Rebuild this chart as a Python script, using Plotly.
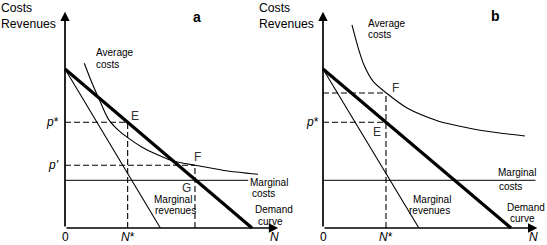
import plotly.graph_objects as go

# ---------------- data (economic units) ----------------
axis_N_end = 11.4
axis_p_top = 13.6

demand_N = [0, 10.0]
demand_p = [10.0, 0]
mr_N = [0, 5.1]
mr_p = [10.0, 0]
mc_level = 3.0
mc_end_a = 9.8
mc_end_b = 11.3

n_star = 3.35
p_star = 6.65
n_prime = 6.95
p_prime = 3.95
ac_b_at_nstar = 8.49

ac_a_N = [1.03, 1.45, 1.78, 2.32, 2.85, 3.39, 4.1, 4.8, 5.5, 6.2, 6.95, 8.5, 10.32]
ac_a_p = [10.36, 9.1, 8.22, 6.85, 6.15, 5.65, 5.1, 4.68, 4.33, 4.1, 3.95, 3.62, 3.38]

ac_b_N = [1.54, 1.88, 2.18, 2.68, 3.37, 4.47, 6.12, 6.52, 8.35, 10.74]
ac_b_p = [12.77, 11.30, 10.25, 9.20, 8.49, 7.55, 6.73, 6.60, 6.15, 5.79]

# ---------------- layout constants ----------------
W, H = 547, 245
ox_a, ox_b, oy = 65, 323, 228      # pixel origins
sx_a, sx_b, sy = 18.7, 18.8, 15.9  # pixels per unit
FONT = "Liberation Sans, Arial, Helvetica, sans-serif"

fig = go.Figure()


def line(xs, ys, panel, width=1.0, dash=None, shape="linear"):
    fig.add_trace(go.Scatter(
        x=xs, y=ys, mode="lines",
        line=dict(color="black", width=width, dash=dash, shape=shape, smoothing=0.8),
        xaxis="x" if panel == "a" else "x2",
        yaxis="y" if panel == "a" else "y2",
        hoverinfo="skip", showlegend=False))


DASH = "6px,3px"
annotations = []


def text(panel, x, y, s, size=10, xanchor="left", color="black", bold=False,
         yanchor="middle", xref=None, yref=None):
    annotations.append(dict(
        x=x, y=y,
        xref=xref or ("x" if panel == "a" else "x2"),
        yref=yref or ("y" if panel == "a" else "y2"),
        text=("<b>%s</b>" % s) if bold else s, showarrow=False,
        xanchor=xanchor, yanchor=yanchor, align="left", borderpad=0,
        font=dict(family=FONT, size=size, color=color)))


def arrow(panel, x, y):
    xr = "x" if panel == "a" else "x2"
    yr = "y" if panel == "a" else "y2"
    annotations.append(dict(
        x=x, y=y, ax=0, ay=0, xref=xr, yref=yr, axref=xr, ayref=yr,
        text="", showarrow=True, arrowhead=2, arrowsize=1.1, arrowwidth=1.7,
        arrowcolor="black", standoff=0))


for panel, mc_end, ac_N, ac_p in (("a", mc_end_a, ac_a_N, ac_a_p), ("b", mc_end_b, ac_b_N, ac_b_p)):
    arrow(panel, 0, axis_p_top)
    arrow(panel, axis_N_end, 0)
    line(mr_N, mr_p, panel, 1.1)
    line([0, mc_end], [mc_level, mc_level], panel, 1.0)
    line(ac_N, ac_p, panel, 1.1, shape="spline")
    line(demand_N, demand_p, panel, 3.2)

# dashed guides panel a
line([0, n_star], [p_star, p_star], "a", 1.1, DASH)
line([n_star, n_star], [0, p_star], "a", 1.1, DASH)
line([0, n_prime], [p_prime, p_prime], "a", 1.1, DASH)
line([n_prime, n_prime], [0, p_prime], "a", 1.1, DASH)
# dashed guides panel b
line([0, n_star], [ac_b_at_nstar, ac_b_at_nstar], "b", 1.1, DASH)
line([0, n_star], [p_star, p_star], "b", 1.1, DASH)
line([n_star, n_star], [0, ac_b_at_nstar], "b", 1.1, DASH)

# ---- text panel a ----
text("a", 0, 1, "Costs<br>Revenues", 12.2, yanchor="top", xref="paper", yref="paper")
text("a", 7.06, 13.27, "a", 14, "center", bold=True)
text("a", 1.60, 11.04, "Average", 10)
text("a", 1.60, 10.31, "costs", 10)
text("a", 3.72, 7.04, "E", 12, "center", "#333")
text("a", 7.11, 4.47, "F", 12, "center", "#333")
text("a", 6.52, 2.52, "G", 12, "center", "#333")
text("a", 4.71, 1.82, "Marginal", 10)
text("a", 4.76, 1.07, "revenues", 10)
text("a", 9.84, 2.89, "Marginal", 10)
text("a", 9.95, 2.20, "costs", 10)
text("a", 10.11, 1.16, "Demand", 10)
text("a", 10.29, 0.44, "curve", 10)
text("a", -0.27, p_star, "<i>p</i>*", 12, "right")
text("a", -0.27, p_prime, "<i>p'</i>", 12, "right")
text("a", 0, 0, "0", 12, "center", yanchor="bottom", yref="paper")
text("a", n_star, 0, "<i>N</i>*", 12, "center", yanchor="bottom", yref="paper")
text("a", 11.18, 0, "<i>N</i>", 12, "center", yanchor="bottom", yref="paper")

# ---- text panel b ----
text("b", -3.46, 1, "Costs<br>Revenues", 12.2, yanchor="top", yref="paper")
text("b", 9.20, 13.33, "b", 14, "center", bold=True)
text("b", 2.34, 12.89, "Average", 10)
text("b", 2.34, 12.17, "costs", 10)
text("b", 3.83, 8.81, "F", 12, "center", "#333")
text("b", 2.87, 6.04, "E", 12, "center", "#333")
text("b", -0.16, p_star, "<i>p</i>*", 12, "right")
text("b", 9.26, 3.46, "Marginal", 10)
text("b", 9.31, 2.64, "costs", 10)
text("b", 4.73, 1.82, "Marginal", 10)
text("b", 4.52, 1.07, "revenues", 10)
text("b", 9.73, 1.32, "Demand", 10)
text("b", 9.87, 0.57, "curve", 10)
text("b", 0, 0, "0", 12, "center", yanchor="bottom", yref="paper")
text("b", n_star, 0, "<i>N</i>*", 12, "center", yanchor="bottom", yref="paper")
text("b", 11.17, 0, "<i>N</i>", 12, "center", yanchor="bottom", yref="paper")

yr = [-(H - oy) / sy, oy / sy]
fig.update_layout(
    width=W, height=H, margin=dict(l=0, r=0, t=0, b=0),
    paper_bgcolor="white", plot_bgcolor="white",
    showlegend=False, hovermode=False,
    xaxis=dict(domain=[0, 1], range=[-ox_a / sx_a, (W - ox_a) / sx_a], visible=False, fixedrange=True),
    yaxis=dict(domain=[0, 1], range=yr, visible=False, fixedrange=True),
    xaxis2=dict(domain=[0, 1], range=[-ox_b / sx_b, (W - ox_b) / sx_b], visible=False,
                overlaying="x", anchor="y2", fixedrange=True),
    yaxis2=dict(domain=[0, 1], range=yr, visible=False, overlaying="y", anchor="x2", fixedrange=True),
    annotations=annotations,
)

fig.write_html(
    "out.html",
    config={"displayModeBar": False},
    post_script="document.body.style.margin='0';document.body.style.overflow='hidden';",
)
